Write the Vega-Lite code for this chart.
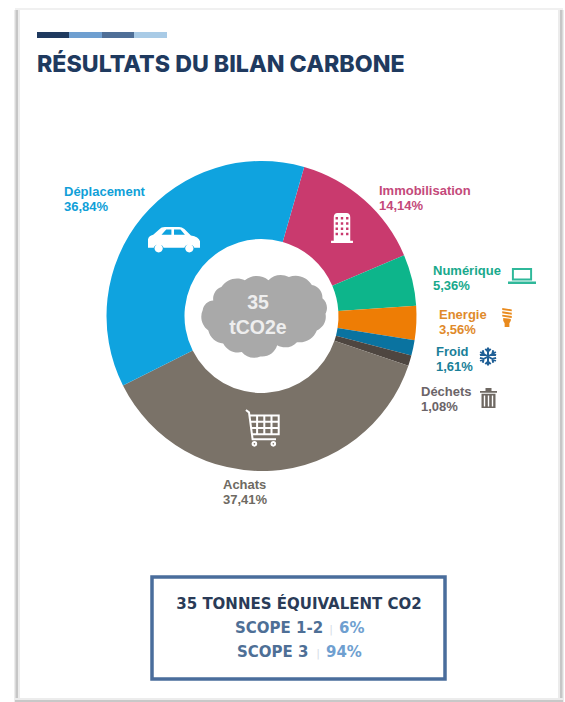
{"$schema":"https://vega.github.io/schema/vega-lite/v6.json","width":565,"height":702,"padding":0,"autosize":{"type":"fit","contains":"padding"},"background":"white","config":{"view":{"stroke":null}},"datasets":{"postes":[{"rang":1,"poste":"Immobilisation","part":14.14,"etiquette":"Immobilisation\n14,14%"},{"rang":2,"poste":"Numérique","part":5.36,"etiquette":"Numérique\n5,36%"},{"rang":3,"poste":"Energie","part":3.56,"etiquette":"Energie\n3,56%"},{"rang":4,"poste":"Froid","part":1.61,"etiquette":"Froid\n1,61%"},{"rang":5,"poste":"Déchets","part":1.08,"etiquette":"Déchets\n1,08%"},{"rang":6,"poste":"Achats","part":37.41,"etiquette":"Achats\n37,41%"},{"rang":7,"poste":"Déplacement","part":36.84,"etiquette":"Déplacement\n36,84%"}]},"layer":[
{"data":{"values":[{}]},"mark":{"type":"rect","x":14,"x2":20,"y":10,"y2":702,"fill":"#ececec"},"encoding":{}},
{"data":{"values":[{}]},"mark":{"type":"rect","x":15.5,"x2":18,"y":10,"y2":702,"fill":"#c6c6c6"},"encoding":{}},
{"data":{"values":[{}]},"mark":{"type":"rect","x":558,"x2":564,"y":10,"y2":702,"fill":"#ececec"},"encoding":{}},
{"data":{"values":[{}]},"mark":{"type":"rect","x":560,"x2":562.5,"y":10,"y2":702,"fill":"#c6c6c6"},"encoding":{}},
{"data":{"values":[{}]},"mark":{"type":"rect","x":15,"x2":563,"y":698,"y2":702,"fill":"#ececec"},"encoding":{}},
{"data":{"values":[{}]},"mark":{"type":"rect","x":15,"x2":563,"y":700,"y2":702,"fill":"#c8c8c8"},"encoding":{}},
{"data":{"values":[{}]},"mark":{"type":"rect","x":15,"x2":563,"y":8,"y2":10,"fill":"#f0f0f0"},"encoding":{}},
{"data":{"values":[{}]},"mark":{"type":"rect","x":37,"x2":69,"y":32,"y2":38,"fill":"#1f3a5f"},"encoding":{}},
{"data":{"values":[{}]},"mark":{"type":"rect","x":69,"x2":102,"y":32,"y2":38,"fill":"#6f9fd0"},"encoding":{}},
{"data":{"values":[{}]},"mark":{"type":"rect","x":102,"x2":134,"y":32,"y2":38,"fill":"#4f6f97"},"encoding":{}},
{"data":{"values":[{}]},"mark":{"type":"rect","x":134,"x2":167,"y":32,"y2":38,"fill":"#a9cbe6"},"encoding":{}},
{"data":{"values":[{}]},"mark":{"type":"text","text":"RÉSULTATS DU BILAN CARBONE","x":37,"y":72,"align":"left","baseline":"alphabetic","font":"Inter","fontWeight":800,"fontSize":23.2,"fill":"#1f3a5f"},"encoding":{}},
{"data":{"name":"postes"},"mark":{"type":"arc","x":261.5,"y":316,"radius":155,"radius2":77,"stroke":null},"encoding":{"theta":{"field":"part","type":"quantitative","scale":{"domain":[0,100],"range":[0.279,6.562]}},"order":{"field":"rang","type":"quantitative"},"color":{"field":"poste","type":"nominal","legend":null,"scale":{"domain":["Immobilisation","Numérique","Energie","Froid","Déchets","Achats","Déplacement"],"range":["#c93a6e","#0db58b","#ee7d05","#0a73a0","#4e4640","#7a7268","#0fa3df"]}}}},
{"data":{"values":[{}]},"mark":{"type":"point","x":263.5,"y":315.5,"size":15376,"opacity":1,"filled":true,"fill":"#a9a9a9","stroke":null,"shape":"M-.98,-.09 A.18,.18 0 0 1 -.81,-.24 A.2,.2 0 0 1 -.68,-.46 A.3,.3 0 0 1 -.30,-.57 A.3,.3 0 0 1 .08,-.57 A.27,.27 0 0 1 .41,-.62 A.3,.3 0 0 1 .78,-.49 A.2,.2 0 0 1 .95,-.28 A.2,.2 0 0 1 1,-.03 A.24,.24 0 0 1 .86,.24 A.3,.3 0 0 1 .54,.43 A.26,.26 0 0 1 .22,.48 A.25,.25 0 0 1 -.05,.66 A.25,.25 0 0 1 -.35,.59 A.27,.27 0 0 1 -.65,.45 A.27,.27 0 0 1 -.89,.24 A.27,.27 0 0 1 -.98,-.09 Z"},"encoding":{}},
{"data":{"values":[{}]},"mark":{"type":"text","text":"35","x":258,"y":309,"align":"center","baseline":"alphabetic","font":"Liberation Sans","fontWeight":"bold","fontSize":19.5,"fill":"#eeeeee"},"encoding":{}},
{"data":{"values":[{}]},"mark":{"type":"text","text":"tCO2e","x":258,"y":334,"align":"center","baseline":"alphabetic","font":"Liberation Sans","fontWeight":"bold","fontSize":19.5,"fill":"#eeeeee"},"encoding":{}},
{"data":{"values":[{}]},"mark":{"type":"point","x":174,"y":240,"size":2704,"opacity":1,"filled":true,"fill":"white","stroke":null,"shape":"M-1,.3 L-1,-.02 Q-.98,-.15 -.8,-.2 L-.55,-.42 Q-.5,-.5 -.35,-.5 L.2,-.5 Q.3,-.5 .4,-.42 L.65,-.17 Q.95,-.12 1,.05 L1,.3 L.78,.3 A.2,.2 0 0 0 .4,.3 L-.4,.3 A.2,.2 0 0 0 -.78,.3 Z M-.48,-.2 L-.1,-.2 L-.1,-.4 L-.3,-.4 Z M0,-.2 L.42,-.2 L.25,-.4 L0,-.4 Z M-.75,.32 A.16,.16 0 1 1 -.43,.32 A.16,.16 0 1 1 -.75,.32 Z M.43,.32 A.16,.16 0 1 1 .75,.32 A.16,.16 0 1 1 .43,.32 Z"},"encoding":{}},
{"data":{"values":[{}]},"mark":{"type":"point","x":342,"y":228,"size":900,"opacity":1,"filled":true,"fill":"white","stroke":null,"shape":"M-.73,1 L-.73,.85 L-.55,.85 L-.55,-.7 Q-.55,-1 -.3,-1 L.3,-1 Q.55,-1 .55,-.7 L.55,.85 L.73,.85 L.73,1 Z M-.43,-.57 h.16 v-.16 h-.16 Z M-.08,-.57 h.16 v-.16 h-.16 Z M.27,-.57 h.16 v-.16 h-.16 Z M-.43,-.22 h.16 v-.16 h-.16 Z M-.08,-.22 h.16 v-.16 h-.16 Z M.27,-.22 h.16 v-.16 h-.16 Z M-.43,.13 h.16 v-.16 h-.16 Z M-.08,.13 h.16 v-.16 h-.16 Z M.27,.13 h.16 v-.16 h-.16 Z M-.43,.48 h.16 v-.16 h-.16 Z M-.08,.48 h.16 v-.16 h-.16 Z M.27,.48 h.16 v-.16 h-.16 Z"},"encoding":{}},
{"data":{"values":[{}]},"mark":{"type":"point","x":522,"y":276,"size":784,"opacity":1,"filled":true,"fill":"#2fb89a","stroke":null,"shape":"M-.72,-.57 L.72,-.57 L.72,.32 L-.72,.32 Z M-.58,.18 L.58,.18 L.58,-.43 L-.58,-.43 Z M-1,.4 L1,.4 L1,.57 L-1,.57 Z"},"encoding":{}},
{"data":{"values":[{}]},"mark":{"type":"point","x":507,"y":317.5,"size":361,"opacity":1,"filled":true,"fill":"#e98a1d","stroke":null,"shape":"M-.5,-1 L.5,-.85 L.5,-.65 L-.5,-.8 Z M-.5,-.65 L.5,-.5 L.5,-.3 L-.5,-.45 Z M-.5,-.3 L.5,-.15 L.5,.05 L-.5,-.1 Z M-.4,.05 L.4,.15 L.4,.35 Q.3,.55 .25,.6 L.25,1 L-.25,1 L-.25,.6 Q-.3,.55 -.4,.35 Z"},"encoding":{}},
{"data":{"values":[{}]},"mark":{"type":"point","x":488,"y":356.5,"size":324,"opacity":1,"filled":false,"fill":null,"stroke":"#1f5f96","strokeWidth":2,"shape":"M0,-1 L0,1 M-.87,-.5 L.87,.5 M-.87,.5 L.87,-.5 M-.3,-.85 L0,-.55 L.3,-.85 M-.3,.85 L0,.55 L.3,.85 M-.9,-.15 L-.48,-.28 L-.58,-.7 M.9,.15 L.48,.28 L.58,.7 M-.9,.15 L-.48,.28 L-.58,.7 M.9,-.15 L.48,-.28 L.58,-.7"},"encoding":{}},
{"data":{"values":[{}]},"mark":{"type":"point","x":488.5,"y":398,"size":400,"opacity":1,"filled":true,"fill":"#6e6862","stroke":null,"shape":"M-.85,-.7 L-.3,-.7 L-.3,-1 L.3,-1 L.3,-.7 L.85,-.7 L.85,-.52 L-.85,-.52 Z M-.7,-.42 L.7,-.42 L.7,1 L-.7,1 Z M-.47,.85 L-.33,.85 L-.33,-.25 L-.47,-.25 Z M-.07,.85 L.07,.85 L.07,-.25 L-.07,-.25 Z M.33,.85 L.47,.85 L.47,-.25 L.33,-.25 Z"},"encoding":{}},
{"data":{"values":[{}]},"mark":{"type":"point","x":262.5,"y":428,"size":1296,"opacity":1,"filled":false,"fill":null,"stroke":"white","strokeWidth":2,"shape":"M-.92,-1 L-.75,-.87 L-.55,.62 L.75,.62 M-.72,-.7 L.9,-.7 L.9,.35 L-.58,.35 M-.3,-.7 L-.3,.35 M.1,-.7 L.1,.35 M.5,-.7 L.5,.35 M-.67,-.35 L.9,-.35 M-.63,0 L.9,0 M-.55,.88 A.1,.1 0 1 1 -.35,.88 A.1,.1 0 1 1 -.55,.88 Z M.5,.88 A.1,.1 0 1 1 .7,.88 A.1,.1 0 1 1 .5,.88 Z"},"encoding":{}},
{"data":{"name":"postes"},"transform":[{"filter":"datum.poste==='Déplacement'"}],"mark":{"type":"text","x":64,"y":196,"align":"left","baseline":"alphabetic","lineBreak":"\n","lineHeight":14.5,"font":"Liberation Sans","fontWeight":"bold","fontSize":13,"fill":"#109fd8"},"encoding":{"text":{"field":"etiquette"}}},
{"data":{"name":"postes"},"transform":[{"filter":"datum.poste==='Immobilisation'"}],"mark":{"type":"text","x":379,"y":195,"align":"left","baseline":"alphabetic","lineBreak":"\n","lineHeight":14.5,"font":"Liberation Sans","fontWeight":"bold","fontSize":13,"fill":"#c4497a"},"encoding":{"text":{"field":"etiquette"}}},
{"data":{"name":"postes"},"transform":[{"filter":"datum.poste==='Numérique'"}],"mark":{"type":"text","x":433,"y":275,"align":"left","baseline":"alphabetic","lineBreak":"\n","lineHeight":15,"font":"Liberation Sans","fontWeight":"bold","fontSize":13,"fill":"#18a98c"},"encoding":{"text":{"field":"etiquette"}}},
{"data":{"name":"postes"},"transform":[{"filter":"datum.poste==='Energie'"}],"mark":{"type":"text","x":439,"y":319,"align":"left","baseline":"alphabetic","lineBreak":"\n","lineHeight":14.5,"font":"Liberation Sans","fontWeight":"bold","fontSize":13,"fill":"#e08a2b"},"encoding":{"text":{"field":"etiquette"}}},
{"data":{"name":"postes"},"transform":[{"filter":"datum.poste==='Froid'"}],"mark":{"type":"text","x":436,"y":356,"align":"left","baseline":"alphabetic","lineBreak":"\n","lineHeight":14.5,"font":"Liberation Sans","fontWeight":"bold","fontSize":13,"fill":"#1a7f99"},"encoding":{"text":{"field":"etiquette"}}},
{"data":{"name":"postes"},"transform":[{"filter":"datum.poste==='Déchets'"}],"mark":{"type":"text","x":421,"y":396,"align":"left","baseline":"alphabetic","lineBreak":"\n","lineHeight":15,"font":"Liberation Sans","fontWeight":"bold","fontSize":13,"fill":"#6b6468"},"encoding":{"text":{"field":"etiquette"}}},
{"data":{"name":"postes"},"transform":[{"filter":"datum.poste==='Achats'"}],"mark":{"type":"text","x":223,"y":489,"align":"left","baseline":"alphabetic","lineBreak":"\n","lineHeight":15,"font":"Liberation Sans","fontWeight":"bold","fontSize":13,"fill":"#6e6a62"},"encoding":{"text":{"field":"etiquette"}}},
{"data":{"values":[{}]},"mark":{"type":"rect","x":152,"x2":445,"y":577,"y2":679,"fill":null,"stroke":"#4a6d9c","strokeWidth":3.5},"encoding":{}},
{"data":{"values":[{}]},"mark":{"type":"text","text":"35 TONNES ÉQUIVALENT CO2","x":299,"y":609,"align":"center","baseline":"alphabetic","font":"DejaVu Sans","fontWeight":"bold","fontSize":15,"fill":"#2a3b57"},"encoding":{}},
{"data":{"values":[{}]},"mark":{"type":"text","text":"SCOPE 1-2","x":235,"y":633,"align":"left","baseline":"alphabetic","font":"DejaVu Sans","fontWeight":"bold","fontSize":15,"fill":"#4e6f96"},"encoding":{}},
{"data":{"values":[{}]},"mark":{"type":"text","text":"|","x":331,"y":633,"align":"center","baseline":"alphabetic","font":"DejaVu Sans","fontSize":11,"fill":"#d5dde6"},"encoding":{}},
{"data":{"values":[{}]},"mark":{"type":"text","text":"6%","x":339,"y":633,"align":"left","baseline":"alphabetic","font":"DejaVu Sans","fontWeight":"bold","fontSize":15,"fill":"#6f9fd0"},"encoding":{}},
{"data":{"values":[{}]},"mark":{"type":"text","text":"SCOPE 3","x":237,"y":657,"align":"left","baseline":"alphabetic","font":"DejaVu Sans","fontWeight":"bold","fontSize":15,"fill":"#4e6f96"},"encoding":{}},
{"data":{"values":[{}]},"mark":{"type":"text","text":"|","x":318,"y":657,"align":"center","baseline":"alphabetic","font":"DejaVu Sans","fontSize":11,"fill":"#d5dde6"},"encoding":{}},
{"data":{"values":[{}]},"mark":{"type":"text","text":"94%","x":326,"y":657,"align":"left","baseline":"alphabetic","font":"DejaVu Sans","fontWeight":"bold","fontSize":15,"fill":"#6f9fd0"},"encoding":{}}
]}
